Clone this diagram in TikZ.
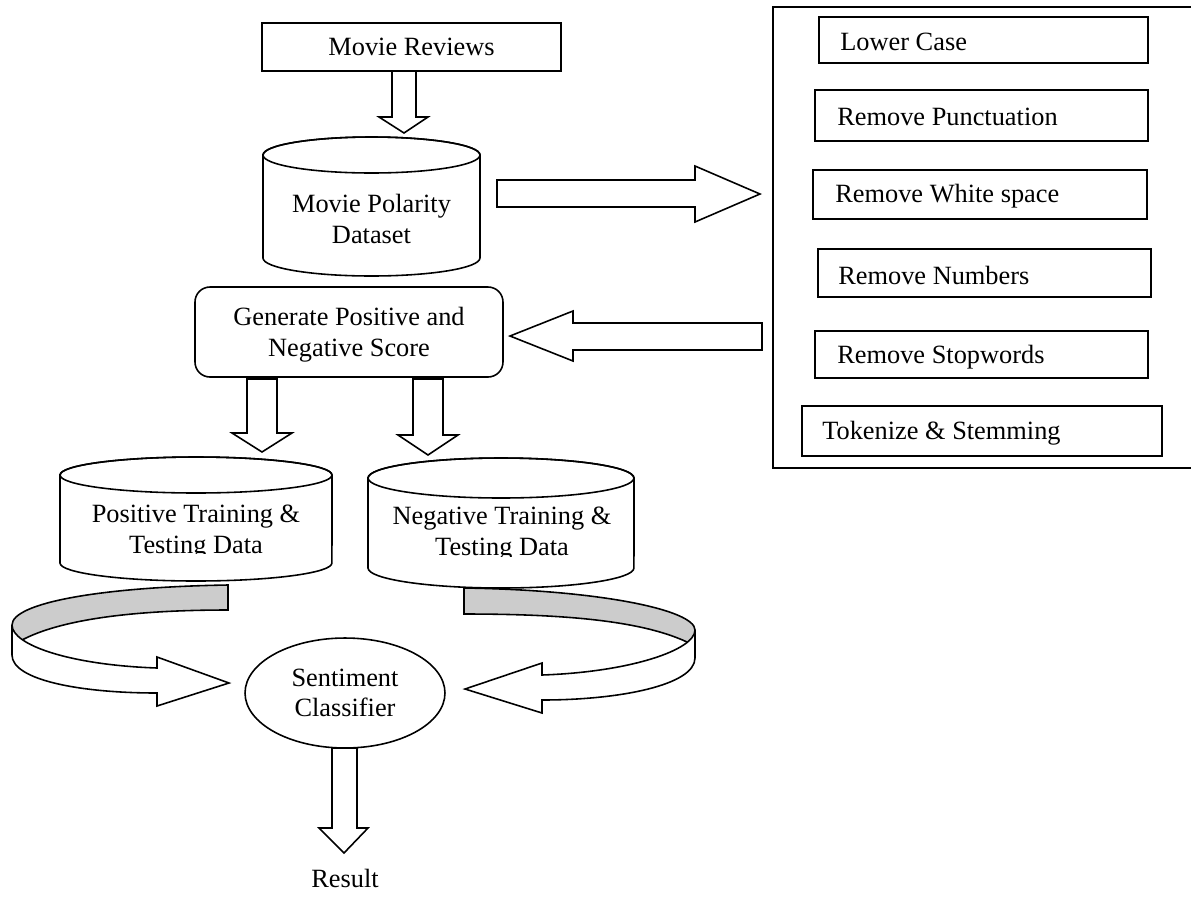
\documentclass[tikz,border=0pt]{standalone}
\usepackage{fontspec}
\setmainfont{Liberation Serif}
\usetikzlibrary{shapes.geometric}
\tikzset{
  ln/.style={line width=0.9pt, line join=miter},
  txt/.style={font=\fontsize{15}{17.5}\selectfont, align=center, inner sep=0pt},
  ltxt/.style={font=\fontsize{15}{17.5}\selectfont, anchor=west, inner sep=0pt},
  barrow/.style={ln, fill=white},
  band/.style={ln, fill=black!20},
  stepbox/.style={ln},
}
\begin{document}
\begin{tikzpicture}[x=0.02cm,y=-0.02cm]
\useasboundingbox (0,0) rectangle (1191,897);

% Movie Reviews
\draw[stepbox] (262,23) rectangle (561,71);
\node[txt] (mr) at (411.5,47) {Movie Reviews};

% Movie Polarity Dataset cylinder
\filldraw[ln, fill=white] (263,155) -- (263,258) arc[start angle=180, end angle=360, x radius=2.17cm, y radius=0.36cm] -- (480,155) arc[start angle=0, end angle=180, x radius=2.17cm, y radius=0.36cm] -- cycle;
\draw[ln] (371.5,155) ellipse[x radius=2.17cm, y radius=0.36cm];
\node[txt] (mpd) at (371.5,219) {Movie Polarity\\Dataset};

% arrow Movie Reviews -> dataset
\draw[barrow] (392,71) -- (392,117) -- (379,117) -- (404,133) -- (428,117) -- (416,117) -- (416,71) -- cycle;

% arrow dataset -> preprocessing
\draw[barrow] (497,180) -- (695,180) -- (695,166) -- (760,194) -- (695,222) -- (695,207) -- (497,207) -- cycle;

% preprocessing frame (open on the right)
\draw[ln] (1191,7) -- (773,7) -- (773,468) -- (1191,468);

\draw[stepbox] (819,17) rectangle (1148,63);
\node[ltxt] (lc) at (840,42) {Lower Case};
\draw[stepbox] (815,90) rectangle (1148,141);
\node[ltxt] (rp) at (837,117) {Remove Punctuation};
\draw[stepbox] (813,170) rectangle (1147,219);
\node[ltxt] (rw) at (835,196) {Remove White space};
\draw[stepbox] (818,249) rectangle (1151,297);
\node[ltxt] (rn) at (838,275) {Remove Numbers};
\draw[stepbox] (815,331) rectangle (1148,378);
\node[ltxt] (rs) at (837,357) {Remove Stopwords};
\draw[stepbox] (802,406) rectangle (1162,456);
\node[ltxt] (tk) at (822,433) {Tokenize \& Stemming};

% Generate score box
\draw[ln, rounded corners=0.3cm] (195,287) rectangle (503,377);
\node[txt] (gen) at (349,335) {Generate Positive and\\Negative Score};

% arrow preprocessing -> generate
\draw[barrow] (762,323) -- (573,323) -- (573,311) -- (510,336) -- (573,361) -- (573,350) -- (762,350) -- cycle;

% Positive cylinder
\filldraw[ln, fill=white] (60,475) -- (60,563) arc[start angle=180, end angle=360, x radius=2.72cm, y radius=0.36cm] -- (332,475) arc[start angle=0, end angle=180, x radius=2.72cm, y radius=0.36cm] -- cycle;
\draw[ln] (196,475) ellipse[x radius=2.72cm, y radius=0.36cm];
\begin{scope}
  \clip (60,495) rectangle (332,553);
  \node[txt] (pos) at (196,532) {Positive Training \&\\Testing Data};
\end{scope}

% Negative cylinder
\filldraw[ln, fill=white] (368,478) -- (368,568) arc[start angle=180, end angle=360, x radius=2.66cm, y radius=0.4cm] -- (634,478) arc[start angle=0, end angle=180, x radius=2.66cm, y radius=0.4cm] -- cycle;
\draw[ln] (501,478) ellipse[x radius=2.66cm, y radius=0.4cm];
\begin{scope}
  \clip (368,499) rectangle (634,556);
  \node[txt] (neg) at (502,534) {Negative Training \&\\Testing Data};
\end{scope}

% arrows generate -> cylinders
\draw[barrow] (247,379) -- (247,433) -- (232,433) -- (262,452) -- (292,433) -- (277,433) -- (277,379) -- cycle;
\draw[barrow] (413,379) -- (413,435) -- (398,435) -- (428,455) -- (458,435) -- (443,435) -- (443,379) -- cycle;

% Sentiment classifier
\node[ln, draw, fill=white, ellipse, minimum width=4cm, minimum height=2.2cm, txt] (sc) at (345,693) {Sentiment\\Classifier};

% left curved arrow
\filldraw[band] (228,585) .. controls (100,587) and (12,603) .. (12,625) -- (12,650) -- (22,640) .. controls (60,620) and (130,610) .. (228,610) -- cycle;
\filldraw[barrow] (12,625) -- (12,655) .. controls (12,680) and (80,693) .. (157,693) -- (157,706) -- (229,683) -- (157,657) -- (157,668) .. controls (70,665) and (12,645) .. (12,625) -- cycle;

% right curved arrow
\filldraw[band] (464,588) .. controls (600,590) and (695,610) .. (695,630) -- (695,655) -- (687,642) .. controls (640,620) and (560,614) .. (464,614) -- cycle;
\filldraw[barrow] (695,630) -- (695,658) .. controls (695,685) and (620,700) .. (542,700) -- (542,713) -- (465,689) -- (542,663) -- (542,675) .. controls (630,672) and (695,650) .. (695,630) -- cycle;

% arrow classifier -> result
\draw[barrow] (332,748) -- (332,828) -- (319,828) -- (344,853) -- (368,828) -- (357,828) -- (357,748) -- cycle;
\node[txt] (res) at (345,878) {Result};

\end{tikzpicture}
\end{document}
